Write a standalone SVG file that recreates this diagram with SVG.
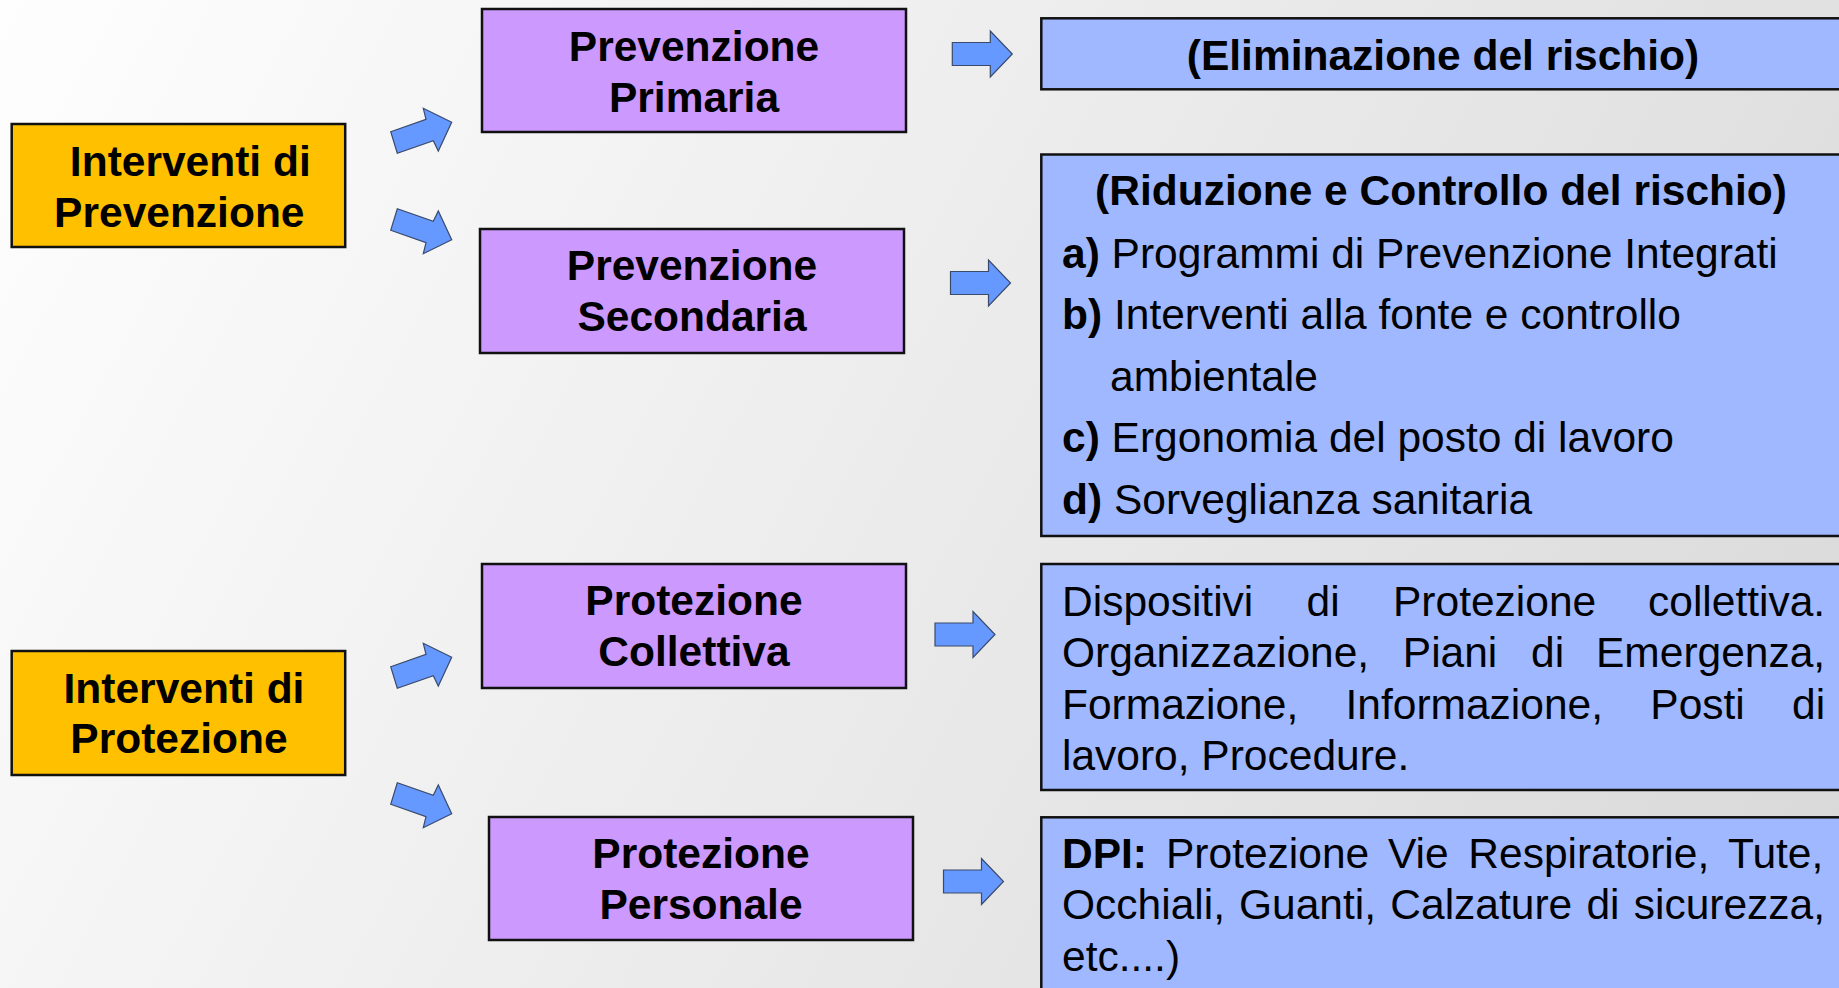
<svg xmlns="http://www.w3.org/2000/svg" width="1839" height="988" viewBox="0 0 1839 988">
<defs>
<linearGradient id="bg" gradientUnits="userSpaceOnUse" x1="0" y1="0" x2="1839" y2="988">
<stop offset="0" stop-color="#FEFEFE"/>
<stop offset="1" stop-color="#D8D8D8"/>
</linearGradient>
<path id="blk" d="M0,-11.5 H38 V-23 L60,0 L38,23 V11.5 H0 Z"/>
<polygon id="bent" points="390.7,131.7 426,119.3 423.3,108.3 451.7,122.3 438.3,151 433.3,140.7 397.3,153.3"/>
</defs>
<style>
.box{stroke:#111;stroke-width:2.5}
.yel{fill:#FFC000}
.pur{fill:#CC99FF}
.blu{fill:#9FB8FF}
.arr{fill:#6699FF;stroke:#3a4a6a;stroke-width:1.2;stroke-linejoin:miter}
text{font-family:"Liberation Sans",Arial,Helvetica,sans-serif;font-size:42.5px;fill:#000}
.b{font-weight:bold}
.c{text-anchor:middle}
</style>
<rect x="0" y="0" width="1839" height="988" fill="url(#bg)"/>

<g id="connectors">
<use href="#bent" class="arr"/>
<use href="#bent" class="arr" transform="translate(0,362) scale(1,-1)"/>
<use href="#bent" class="arr" transform="translate(0,535)"/>
<use href="#bent" class="arr" transform="translate(0,936) scale(1,-1)"/>
<use href="#blk" class="arr" transform="translate(952.3,54)"/>
<use href="#blk" class="arr" transform="translate(950.5,283)"/>
<use href="#blk" class="arr" transform="translate(935,634.5)"/>
<use href="#blk" class="arr" transform="translate(943.5,881.5)"/>
</g>

<g id="interventi-prevenzione">
<rect class="box yel" x="11.7" y="124" width="333.5" height="123"/>
<text class="b c" x="190.3" y="175.7">Interventi di</text>
<text class="b c" x="179.3" y="226.7">Prevenzione</text>
</g>

<g id="interventi-protezione">
<rect class="box yel" x="11.7" y="651" width="333.5" height="124"/>
<text class="b c" x="184" y="702.5">Interventi di</text>
<text class="b c" x="179" y="753">Protezione</text>
</g>

<g id="prevenzione-primaria">
<rect class="box pur" x="482" y="9" width="424" height="123"/>
<text class="b c" x="694" y="61">Prevenzione</text>
<text class="b c" x="694" y="111.5">Primaria</text>
</g>

<g id="prevenzione-secondaria">
<rect class="box pur" x="480" y="229" width="424" height="124"/>
<text class="b c" x="692" y="280">Prevenzione</text>
<text class="b c" x="692" y="331">Secondaria</text>
</g>

<g id="protezione-collettiva">
<rect class="box pur" x="482" y="564" width="424" height="124"/>
<text class="b c" x="694" y="615">Protezione</text>
<text class="b c" x="694" y="666">Collettiva</text>
</g>

<g id="protezione-personale">
<rect class="box pur" x="489" y="817" width="424" height="123"/>
<text class="b c" x="701" y="868">Protezione</text>
<text class="b c" x="701" y="919.3">Personale</text>
</g>

<g id="eliminazione">
<rect class="box blu" x="1041.3" y="18.3" width="815" height="71"/>
<text class="b c" x="1443" y="70">(Eliminazione del rischio)</text>
</g>

<g id="riduzione">
<rect class="box blu" x="1041.3" y="154.5" width="815" height="381.5"/>
<text class="b c" x="1441" y="204.5">(Riduzione e Controllo del rischio)</text>
<text x="1062" y="267.5"><tspan class="b">a)</tspan> Programmi di Prevenzione Integrati</text>
<text x="1062" y="329"><tspan class="b">b)</tspan> Interventi alla fonte e controllo</text>
<text x="1110" y="390.5">ambientale</text>
<text x="1062" y="452">
<tspan class="b">c)</tspan> Ergonomia del posto di lavoro</text>
<text x="1062" y="513.5"><tspan class="b">d)</tspan> Sorveglianza sanitaria</text>
</g>

<g id="collettiva-desc">
<rect class="box blu" x="1041.3" y="564" width="815" height="226"/>
<text y="616"><tspan x="1062">Dispositivi</tspan><tspan x="1306.5">di</tspan><tspan x="1393">Protezione</tspan><tspan x="1648">collettiva.</tspan></text>
<text y="667.3"><tspan x="1062">Organizzazione,</tspan><tspan x="1402.8">Piani</tspan><tspan x="1531">di</tspan><tspan x="1596">Emergenza,</tspan></text>
<text y="718.6"><tspan x="1062">Formazione,</tspan><tspan x="1345.5">Informazione,</tspan><tspan x="1650.3">Posti</tspan><tspan x="1792">di</tspan></text>
<text x="1062" y="769.9">lavoro, Procedure.</text>
</g>

<g id="dpi-desc">
<rect class="box blu" x="1041.3" y="817.3" width="815" height="200"/>
<text y="868"><tspan x="1062" class="b">DPI:</tspan><tspan x="1166">Protezione</tspan><tspan x="1388">Vie</tspan><tspan x="1468.3">Respiratorie,</tspan><tspan x="1728">Tute,</tspan></text>
<text y="919.3"><tspan x="1062">Occhiali,</tspan><tspan x="1239">Guanti,</tspan><tspan x="1390.3">Calzature</tspan><tspan x="1586.4">di</tspan><tspan x="1633.7">sicurezza,</tspan></text>
<text x="1062" y="970.5">etc....)</text>
</g>
</svg>
